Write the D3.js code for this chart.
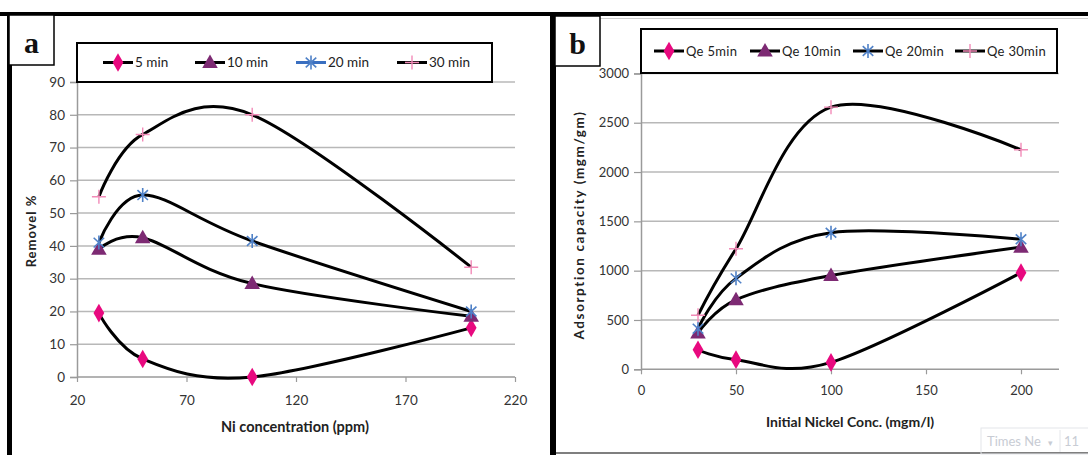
<!DOCTYPE html>
<html>
<head>
<meta charset="utf-8">
<script src="https://cdn.jsdelivr.net/npm/d3@7"></script>
<style>
  body { margin: 0; background: #fff; }
  svg { display: block; }
</style>
</head>
<body>
<div id="viz"></div>
<script>
// panel a: removal % vs Ni concentration
const concA = [30, 50, 100, 200];
const removal5 = [19.5, 5.5, 0, 15];
const removal10 = [39, 42.5, 28.5, 18.5];
const removal20 = [41, 55.5, 41.5, 20];
const removal30 = [55, 74, 80, 33.5];
const ticksAx = [20, 70, 120, 170, 220];
const ticksAy = [0, 10, 20, 30, 40, 50, 60, 70, 80, 90];
const namesA = ['5 min', '10 min', '20 min', '30 min'];

// panel b: adsorption capacity vs initial nickel conc.
const concB = [30, 50, 100, 200];
const qe5 = [198, 98, 70, 980];
const qe10 = [368, 705, 950, 1238];
const qe20 = [412, 922, 1385, 1318];
const qe30 = [548, 1222, 2658, 2226];
const ticksBx = [0, 50, 100, 150, 200];
const ticksBy = [0, 500, 1000, 1500, 2000, 2500, 3000];
const namesB = ['Qe 5min', 'Qe 10min', 'Qe 20min', 'Qe 30min'];

const markers = ['diamond', 'triangle', 'star', 'plus'];
const markerColors = ['#e8097f', '#7d2a73', '#4f81c7', '#f28bb8'];
const font = 'Lato, "Open Sans", sans-serif';

const svg = d3.select('#viz').append('svg').attr('width', 1088).attr('height', 455);

function drawMarker(g, type, x, y, color) {
  if (type === 'diamond') {
    g.append('path').attr('d', d3.symbol(d3.symbolDiamond, 100)())
      .attr('transform', `translate(${x},${y})`).style('fill', color);
  } else if (type === 'triangle') {
    g.append('path').attr('d', d3.symbol(d3.symbolTriangle, 105)())
      .attr('transform', `translate(${x},${y + 1})`).style('fill', color);
  } else if (type === 'star') {
    // excel star: an X with a vertical bar
    const r = 7;
    const p = `M0,${-r}V${r}M${-r * 0.75},${-r * 0.7}L${r * 0.75},${r * 0.7}M${-r * 0.75},${r * 0.7}L${r * 0.75},${-r * 0.7}`;
    g.append('path').attr('d', p).attr('transform', `translate(${x},${y})`)
      .style('stroke', color).style('stroke-width', 1.6).style('fill', 'none');
  } else {
    const r = 7;
    g.append('path').attr('d', `M${-r},0H${r}M0,${-r}V${r}`).attr('transform', `translate(${x},${y})`)
      .style('stroke', color).style('stroke-width', 1.4).style('fill', 'none');
  }
}

function drawPanel({xDomain, yDomain, left, right, top, bottom, xTicks, yTicks, xs, series,
  xLabel, yLabel, xLabelPos, yLabelPos, tickSize, xLabelSize, yLabelSize, yLabelSpacing, tickDy}) {
  const x = d3.scaleLinear().domain(xDomain).range([left, right]);
  const y = d3.scaleLinear().domain(yDomain).range([bottom, top]);
  const g = svg.append('g');

  // grid lines
  g.selectAll('.grid').data(yTicks.filter(d => d > 0)).join('line')
    .attr('x1', left).attr('x2', right)
    .attr('y1', d => y(d)).attr('y2', d => y(d))
    .style('stroke', '#b8b8b8').style('stroke-width', 1.5);

  // axes
  const yAxis = g.append('g').attr('transform', `translate(${left},0)`)
    .call(d3.axisLeft(y).tickValues(yTicks).tickFormat(d3.format('d')).tickSize(7).tickPadding(5));
  const xAxis = g.append('g').attr('transform', `translate(0,${bottom})`)
    .call(d3.axisBottom(x).tickValues(xTicks).tickFormat(d3.format('d')).tickSize(5).tickPadding(tickDy));
  [yAxis, xAxis].forEach(a => {
    a.select('.domain').style('stroke', '#9a9a9a').style('stroke-width', 1.5);
    a.selectAll('.tick line').style('stroke', '#9a9a9a').style('stroke-width', 1.2);
    a.selectAll('text').style('font-family', font).style('font-size', tickSize + 'px').style('fill', '#333');
  });
  xAxis.select('.domain').attr('d', `M${left},0H${right}`);

  // smoothed lines (Excel style)
  const line = d3.line().x((d, i) => x(xs[i])).y(d => y(d)).curve(d3.curveCardinal.tension(0));
  series.forEach(s => {
    g.append('path').attr('d', line(s)).style('fill', 'none')
      .style('stroke', '#000').style('stroke-width', 3);
  });
  series.forEach((s, k) => {
    s.forEach((v, i) => drawMarker(g, markers[k], x(xs[i]), y(v), markerColors[k]));
  });

  g.append('text').attr('x', xLabelPos[0]).attr('y', xLabelPos[1])
    .attr('text-anchor', 'middle').style('font-family', font).style('font-weight', 'bold')
    .style('font-size', xLabelSize + 'px').style('fill', '#222').text(xLabel);
  g.append('text').attr('transform', `translate(${yLabelPos[0]},${yLabelPos[1]}) rotate(-90)`)
    .attr('text-anchor', 'middle').style('font-family', font).style('font-weight', 'bold')
    .style('letter-spacing', yLabelSpacing + 'px')
    .style('font-size', yLabelSize + 'px').style('fill', '#222').text(yLabel);
}

function drawLegend({x0, y0, w, h, items, names, lineColors, fontSize, spacing}) {
  const g = svg.append('g');
  g.append('rect').attr('x', x0).attr('y', y0).attr('width', w).attr('height', h)
    .style('fill', '#fff').style('stroke', '#000').style('stroke-width', 2);
  const cy = y0 + h / 2;
  items.forEach((it, k) => {
    g.append('line').attr('x1', it).attr('x2', it + 30).attr('y1', cy).attr('y2', cy)
      .style('stroke', lineColors[k]).style('stroke-width', 3);
    drawMarker(g, markers[k], it + 15, cy, markerColors[k]);
    g.append('text').attr('x', it + 32).attr('y', cy).attr('dy', '0.35em')
      .style('font-family', font).style('font-size', fontSize + 'px')
      .style('letter-spacing', spacing + 'px').style('fill', '#222').text(names[k]);
  });
}

function drawTag(x0, y0, label) {
  svg.append('rect').attr('x', x0).attr('y', y0).attr('width', 45).attr('height', 50)
    .style('fill', '#fff').style('stroke', '#000').style('stroke-width', 1.5);
  svg.append('text').attr('x', x0 + 22.5).attr('y', y0 + 38).attr('text-anchor', 'middle')
    .style('font-family', '"Liberation Serif", serif').style('font-weight', 'bold')
    .style('font-size', '30px').style('fill', '#111').text(label);
}

// frames
svg.append('line').attr('x1', 0).attr('x2', 1088).attr('y1', 14).attr('y2', 14)
  .style('stroke', '#000').style('stroke-width', 4);
svg.append('line').attr('x1', 9.5).attr('x2', 9.5).attr('y1', 12).attr('y2', 455)
  .style('stroke', '#000').style('stroke-width', 5);
svg.append('line').attr('x1', 553).attr('x2', 553).attr('y1', 12).attr('y2', 455)
  .style('stroke', '#000').style('stroke-width', 6);
svg.append('line').attr('x1', 556).attr('x2', 1088).attr('y1', 453).attr('y2', 453)
  .style('stroke', '#555').style('stroke-width', 1.5);
svg.append('line').attr('x1', 600).attr('x2', 1088).attr('y1', 18.5).attr('y2', 18.5)
  .style('stroke', '#ccc').style('stroke-width', 1);

drawPanel({
  xDomain: [20, 220], yDomain: [0, 90], left: 77, right: 515, top: 82, bottom: 377,
  xTicks: ticksAx, yTicks: ticksAy, xs: concA,
  series: [removal5, removal10, removal20, removal30],
  xLabel: 'Ni concentration  (ppm)', yLabel: 'Removel %',
  xLabelPos: [295, 432], yLabelPos: [36, 231], tickSize: 13.5, xLabelSize: 14.5, yLabelSize: 13,
  yLabelSpacing: 1, tickDy: 13,
});
drawLegend({
  x0: 77, y0: 43, w: 415, h: 39, items: [103, 195, 296, 397], names: namesA,
  lineColors: ['#000', '#000', '#3a6fc0', '#000'], fontSize: 13.5, spacing: 0,
});
drawTag(9, 15, 'a');

drawPanel({
  xDomain: [0, 220], yDomain: [0, 3000], left: 641, right: 1059, top: 73.4, bottom: 369.3,
  xTicks: ticksBx, yTicks: ticksBy, xs: concB,
  series: [qe5, qe10, qe20, qe30],
  xLabel: 'Initial Nickel Conc. (mgm/l)', yLabel: 'Adsorption capacity  (mgm/gm)',
  xLabelPos: [850, 427], yLabelPos: [584, 225], tickSize: 13, xLabelSize: 14, yLabelSize: 13.5,
  yLabelSpacing: 1.6, tickDy: 11,
});
drawLegend({
  x0: 641, y0: 29, w: 416, h: 44, items: [654, 750, 853, 955], names: namesB,
  lineColors: ['#000', '#000', '#000', '#000'], fontSize: 13, spacing: 0.3,
});
drawTag(555, 16, 'b');

// faint font toolbar remnant in the corner
const tb = svg.append('g').style('font-family', font).style('fill', '#c8ccd4');
tb.append('rect').attr('x', 981).attr('y', 428).attr('width', 110).attr('height', 26)
  .style('fill', 'none').style('stroke', '#e4e6ea');
tb.append('text').attr('x', 987).attr('y', 446).style('font-size', '13px').text('Times Ne');
tb.append('text').attr('x', 1048).attr('y', 446).style('font-size', '9px').text('▾');
tb.append('line').attr('x1', 1060).attr('x2', 1060).attr('y1', 430).attr('y2', 452).style('stroke', '#e4e6ea');
tb.append('text').attr('x', 1064).attr('y', 446).style('font-size', '13px').text('11');
</script>
</body>
</html>
